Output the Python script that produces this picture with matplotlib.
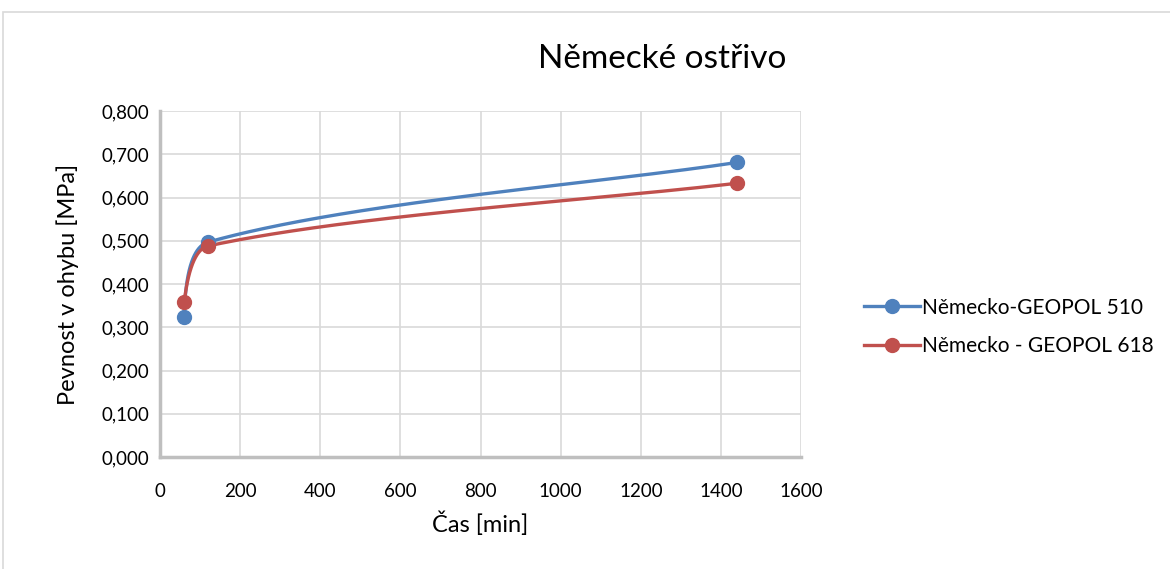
import numpy as np
import matplotlib
matplotlib.use("Agg")
import matplotlib.pyplot as plt
from matplotlib.patches import Rectangle
from matplotlib.ticker import FuncFormatter

# measured strength over time
time_min = [60, 120, 1440]
geopol_510 = [0.324, 0.497, 0.681]
geopol_618 = [0.358, 0.488, 0.633]
series_names = ["Německo-GEOPOL 510", "Německo - GEOPOL 618"]
series_colors = ["#4F81BD", "#C0504D"]

x_ticks = [0, 200, 400, 600, 800, 1000, 1200, 1400, 1600]
y_ticks = [0.0, 0.1, 0.2, 0.3, 0.4, 0.5, 0.6, 0.7, 0.8]

plt.rcParams["font.family"] = ["Lato", "DejaVu Sans"]


def smooth(xs, ys, sx, sy, n=200, tension=0.28):
    # bezier smoothing done in screen-like units so the bends look right
    p = np.column_stack([np.asarray(xs) * sx, np.asarray(ys) * sy])
    k = len(p)
    segs = [np.linalg.norm(p[i + 1] - p[i]) * tension for i in range(k - 1)]
    tang = [None] * k
    for i in range(1, k - 1):
        d = p[i + 1] - p[i - 1]
        tang[i] = d / np.linalg.norm(d)
    out = []
    t = np.linspace(0, 1, n)[:, None]
    for i in range(k - 1):
        if i == 0:
            # start point aims at the next control point
            c2 = p[1] - tang[1] * segs[0]
            d = c2 - p[0]
            c1 = p[0] + d / np.linalg.norm(d) * segs[0]
        else:
            c1 = p[i] + tang[i] * segs[i]
        if i + 1 == k - 1:
            # last point follows the chord
            d = p[i + 1] - p[i]
            c2 = p[i + 1] - d / np.linalg.norm(d) * segs[i]
        else:
            c2 = p[i + 1] - tang[i + 1] * segs[i]
        b = ((1 - t) ** 3 * p[i] + 3 * (1 - t) ** 2 * t * c1
             + 3 * (1 - t) * t ** 2 * c2 + t ** 3 * p[i + 1])
        out.append(b)
    out = np.vstack(out)
    return out[:, 0] / sx, out[:, 1] / sy


fig = plt.figure(figsize=(11.7, 5.69), dpi=100)
ax = fig.add_axes([0.1368, 0.1968, 0.5478, 0.6081])

# thin grey frame round the whole chart
fig.patches.append(Rectangle((3 / 1170, -0.02), 1.02, (569 - 12) / 569 + 0.02,
                             transform=fig.transFigure, fill=False,
                             edgecolor="#D9D9D9", linewidth=1.2, clip_on=False))

sx = 641 / 1600
sy = 346 / 0.8
for ys, name, col in zip([geopol_510, geopol_618], series_names, series_colors):
    cx, cy = smooth(time_min, ys, sx, sy)
    ax.plot(cx, cy, color=col, linewidth=2.4, zorder=3)
    ax.plot(time_min, ys, linestyle="none", marker="o", markersize=10,
            color=col, zorder=4)
    ax.plot([], [], color=col, linewidth=2.4, marker="o", markersize=10,
            label=name)

ax.set_xlim(0, 1600)
ax.set_ylim(0, 0.8)
ax.set_xticks(x_ticks)
ax.set_yticks(y_ticks)
ax.yaxis.set_major_formatter(FuncFormatter(lambda v, _: f"{v:.3f}".replace(".", ",")))
ax.grid(True, color="#D9D9D9", linewidth=1.2)
ax.set_axisbelow(True)
ax.tick_params(length=0, labelsize=13.5, colors="#000000")
ax.tick_params(axis="x", pad=19)
ax.tick_params(axis="y", pad=8)

for side in ["top", "right"]:
    ax.spines[side].set_visible(False)
for side in ["left", "bottom"]:
    ax.spines[side].set_color("#BFBFBF")
    ax.spines[side].set_linewidth(2.5)

ax.set_xlabel("Čas [min]", fontsize=17, labelpad=8)
ax.set_ylabel("Pevnost v ohybu [MPa]", fontsize=17, labelpad=16)
fig.text(662 / 1170, 1 - 59 / 569, "Německé ostřivo", fontsize=24,
         ha="center", va="center")

fig.legend(loc="center left", bbox_to_anchor=(845 / 1170, 1 - 327 / 569),
           frameon=False, fontsize=15, handlelength=2.7, handletextpad=0.1,
           labelspacing=0.9)

fig.savefig("out.png", dpi=100)
